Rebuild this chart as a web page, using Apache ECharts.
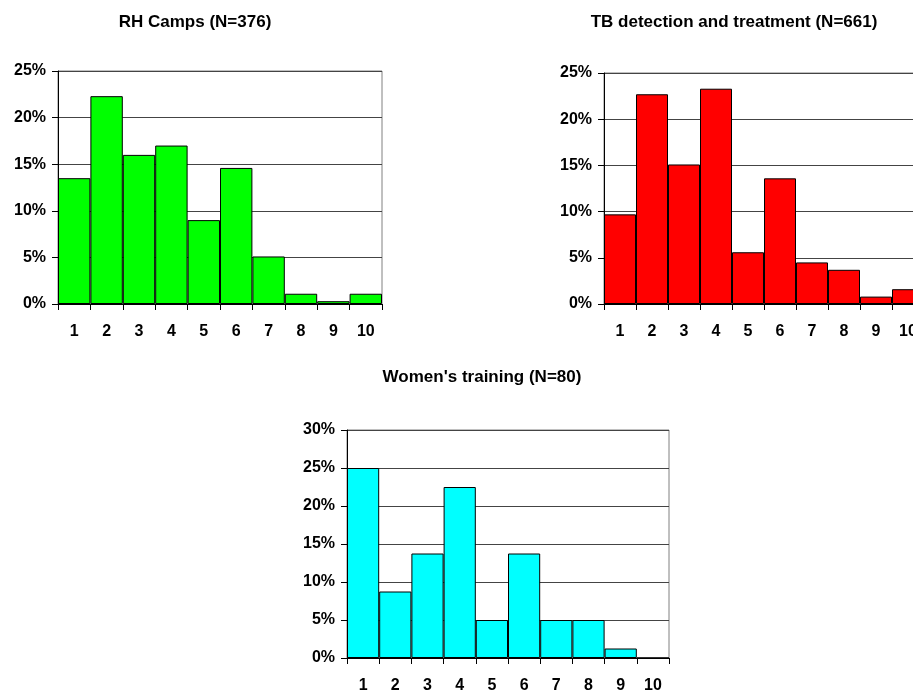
<!DOCTYPE html>
<html><head><meta charset="utf-8">
<script src="https://cdn.jsdelivr.net/npm/echarts@6/dist/echarts.min.js"></script>
<style>html,body{margin:0;padding:0;background:#fff;overflow:hidden}#c{width:930px;height:694px}</style>
</head><body><div id="c"></div>
<script>
const categories = ['1','2','3','4','5','6','7','8','9','10'];
const rhTitle = 'RH Camps (N=376)';
const rhValues = [13.5, 22.3, 16.0, 17.0, 9.0, 14.6, 5.1, 1.1, 0.3, 1.1];
const tbTitle = 'TB detection and treatment (N=661)';
const tbValues = [9.7, 22.7, 15.1, 23.3, 5.6, 13.6, 4.5, 3.7, 0.8, 1.6];
const wtTitle = "Women's training (N=80)";
const wtValues = [25, 8.75, 13.75, 22.5, 5, 13.75, 5, 5, 1.25, 0];

const FONT = '"Liberation Sans", Arial, sans-serif';
const grids = [
  {left: 58, top: 71, width: 324, height: 233},
  {left: 604, top: 73, width: 320, height: 231},
  {left: 347, top: 430, width: 322, height: 229}
];
const maxes = [25, 25, 30];
const colors = ['#00FF00', '#FF0000', '#00FFFF'];
const valuesList = [rhValues, tbValues, wtValues];

const chart = echarts.init(document.getElementById('c'), null, {renderer: 'canvas'});
chart.setOption({
  animation: false,
  title: [
    {text: rhTitle, left: 195, top: 14, textAlign: 'center'},
    {text: tbTitle, left: 734, top: 14, textAlign: 'center'},
    {text: wtTitle, left: 482, top: 369, textAlign: 'center'}
  ].map(t => Object.assign(t, {padding: 0, textStyle: {fontFamily: FONT, fontSize: 17, fontWeight: 'bold', color: '#000'}})),
  grid: grids.map(g => Object.assign({show: true, borderColor: '#808080', borderWidth: 1, backgroundColor: 'transparent'}, g)),
  xAxis: grids.map((g, i) => ({
    type: 'category', gridIndex: i, data: categories, boundaryGap: true,
    axisLine: {lineStyle: {color: '#000', width: 1}},
    axisTick: {show: true, length: 6, lineStyle: {color: '#000'}},
    axisLabel: {margin: 20, color: '#000', fontFamily: FONT, fontSize: 16, fontWeight: 'bold', interval: 0},
    splitLine: {show: false}
  })),
  yAxis: grids.map((g, i) => ({
    type: 'value', gridIndex: i, min: 0, max: maxes[i], interval: 5,
    axisLine: {show: true, lineStyle: {color: '#000', width: 1}},
    axisTick: {show: true, length: 6, lineStyle: {color: '#000'}},
    axisLabel: {formatter: '{value}%', margin: 12, color: '#000', fontFamily: FONT, fontSize: 16, fontWeight: 'bold'},
    splitLine: {show: true, lineStyle: {color: '#444', width: 1}}
  })),
  series: valuesList.map((vals, i) => ({
    type: 'bar', xAxisIndex: i, yAxisIndex: i, data: vals,
    barCategoryGap: '0%',
    itemStyle: {color: colors[i], borderColor: '#000', borderWidth: 1}
  }))
});
</script></body></html>
